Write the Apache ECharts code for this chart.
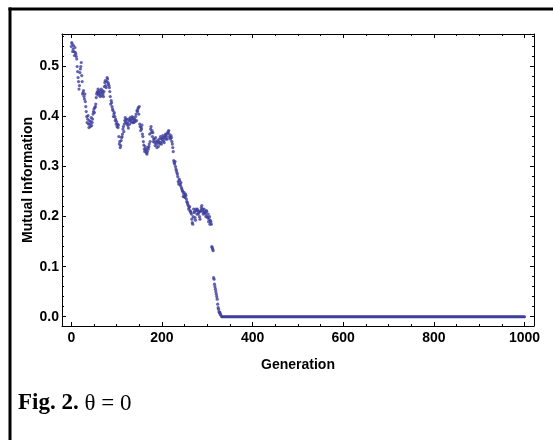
<!DOCTYPE html>
<html>
<head>
<meta charset="utf-8">
<script src="https://cdn.jsdelivr.net/npm/echarts@6/dist/echarts.min.js"></script>
<style>
html,body{margin:0;padding:0;background:#fff;}
#chart{width:553px;height:440px;}
</style>
</head>
<body>
<div id="chart"></div>
<script>
// ---- data ----
const generationsEven = [0,2,4,6,8,10,12,14,16,18,20,22,24,26,28,30,32,34,36,38,40,42,44,46,48,50,52,54,56,58,60,62,64,66,68,70,72,74,76,78,80,82,84,86,88,90,92,94,96,98,100,102,104,106,108,110,112,114,116,118,120,122,124,126,128,130,132,134,136,138,140,142,144,146,148,150,152,154,156,158,160,162,164,166,168,170,172,174,176,178,180,182,184,186,188,190,192,194,196,198,200,202,204,206,208,210,212,214,216,218,220,222,224,226,228,230,232,234,236,238,240,242,244,246,248,250,252,254,256,258,260,262,264,266,268,270,272,274,276,278,280,282,284,286,288,290,292,294,296,298,300,302,304,306,308,310,312,314,316,318,320,322,324,326,328,330];
const mutualInfoEven = [0.540,0.545,0.535,0.530,0.538,0.525,0.515,0.490,0.470,0.462,0.495,0.508,0.470,0.448,0.440,0.445,0.420,0.400,0.395,0.385,0.392,0.380,0.398,0.388,0.405,0.415,0.418,0.425,0.445,0.450,0.443,0.452,0.440,0.455,0.448,0.445,0.450,0.468,0.462,0.470,0.475,0.465,0.458,0.440,0.432,0.420,0.412,0.405,0.400,0.395,0.390,0.385,0.383,0.345,0.338,0.352,0.360,0.375,0.370,0.392,0.388,0.395,0.388,0.377,0.392,0.398,0.390,0.400,0.395,0.388,0.395,0.400,0.392,0.410,0.418,0.420,0.380,0.378,0.383,0.360,0.343,0.330,0.335,0.327,0.330,0.335,0.345,0.350,0.380,0.372,0.368,0.355,0.348,0.358,0.345,0.352,0.340,0.355,0.348,0.356,0.350,0.362,0.352,0.358,0.365,0.360,0.355,0.370,0.365,0.358,0.362,0.350,0.338,0.312,0.305,0.300,0.292,0.285,0.270,0.275,0.265,0.268,0.255,0.250,0.245,0.240,0.245,0.235,0.228,0.222,0.218,0.212,0.208,0.195,0.185,0.215,0.210,0.193,0.212,0.215,0.205,0.210,0.195,0.213,0.222,0.215,0.208,0.210,0.205,0.212,0.200,0.205,0.195,0.185,0.190,0.140,0.135,0.078,0.065,0.055,0.045,0.035,0.018,0.010,0.008,0.003];
const generationsOdd = [1,3,5,7,9,11,13,15,17,19,21,23,25,27,29,31,33,35,37,39,41,43,45,47,49,51,53,55,57,59,61,63,65,67,69,71,73,75,77,79,81,83,85,87,89,91,93,95,97,99,101,103,105,107,109,111,113,115,117,119,121,123,125,127,129,131,133,135,137,139,141,143,145,147,149,151,153,155,157,159,161,163,165,167,169,171,173,175,177,179,181,183,185,187,189,191,193,195,197,199,201,203,205,207,209,211,213,215,217,219,221,223,225,227,229,231,233,235,237,239,241,243,245,247,249,251,253,255,257,259,261,263,265,267,269,271,273,275,277,279,281,283,285,287,289,291,293,295,297,299,301,303,305,307,309,311,313,315,317,319,321,323,325,327,329];
const mutualInfoOdd = [0.548,0.530,0.542,0.522,0.528,0.520,0.500,0.478,0.455,0.488,0.500,0.482,0.445,0.452,0.435,0.430,0.410,0.388,0.402,0.378,0.385,0.390,0.382,0.395,0.410,0.408,0.420,0.438,0.448,0.455,0.447,0.445,0.450,0.442,0.452,0.440,0.460,0.472,0.458,0.478,0.468,0.462,0.450,0.425,0.428,0.415,0.400,0.408,0.392,0.385,0.380,0.378,0.360,0.350,0.342,0.358,0.365,0.380,0.385,0.398,0.393,0.385,0.382,0.395,0.385,0.393,0.395,0.388,0.398,0.392,0.390,0.405,0.412,0.415,0.405,0.385,0.372,0.375,0.365,0.350,0.335,0.340,0.332,0.325,0.338,0.340,0.365,0.375,0.368,0.360,0.350,0.355,0.342,0.350,0.338,0.348,0.350,0.345,0.360,0.345,0.355,0.358,0.348,0.362,0.355,0.365,0.368,0.372,0.360,0.355,0.358,0.345,0.330,0.308,0.310,0.295,0.288,0.280,0.265,0.272,0.262,0.258,0.252,0.240,0.248,0.238,0.242,0.230,0.225,0.215,0.220,0.210,0.205,0.188,0.200,0.208,0.198,0.215,0.205,0.212,0.208,0.200,0.210,0.218,0.212,0.205,0.215,0.208,0.200,0.210,0.198,0.190,0.200,0.192,0.185,0.138,0.132,0.075,0.060,0.050,0.040,0.025,0.015,0.008,0.005];
// flat tail: every generation from 332 to 1000 sits at 0
const zeroTailGenerations = [332, 1000];
const zeroTailValues = [0, 0];

const xTicks = [0,200,400,600,800,1000];
const xMinorTicks = [50,100,150,250,300,350,450,500,550,650,700,750,850,900,950];
const yTicks = [0,0.1,0.2,0.3,0.4,0.5];
const yTickLabels = ['0.0','0.1','0.2','0.3','0.4','0.5'];
const yMinorTicks = [0.02,0.04,0.06,0.08,0.12,0.14,0.16,0.18,0.22,0.24,0.26,0.28,0.32,0.34,0.36,0.38,0.42,0.44,0.46,0.48,0.52,0.54,0.56];

const xName = 'Generation';
const yName = 'Mutual Information';
const captionBold = 'Fig. 2. ';
const captionRest = 'θ = 0';

// ---- chart ----
const SANS = '"Liberation Sans", Arial, Helvetica, sans-serif';
const SERIF = '"Liberation Serif", "Times New Roman", serif';
const DOT = '#3d3d9c';
const XMIN = -20.5, XMAX = 1021, YMIN = -0.0186, YMAX = 0.565;

function xAx(pos, ticks, len, showLine, showLabels, extra) {
  return Object.assign({
    type: 'value', position: pos, min: XMIN, max: XMAX, gridIndex: 0,
    axisLine: {show: showLine, onZero: false, lineStyle: {color: '#000', width: 1}},
    axisTick: {show: true, inside: true, length: len, customValues: ticks, lineStyle: {color: '#000', width: 1}},
    axisLabel: showLabels ? {show: true, customValues: ticks, margin: 5, color: '#000', fontFamily: SANS, fontWeight: 'bold', fontSize: 14,
      formatter: function (v) { return String(Math.round(v)); }} : {show: false},
    splitLine: {show: false}, minorTick: {show: false}
  }, extra || {});
}
function yAx(pos, ticks, len, showLine, showLabels, extra) {
  return Object.assign({
    type: 'value', position: pos, min: YMIN, max: YMAX, gridIndex: 0,
    axisLine: {show: showLine, onZero: false, lineStyle: {color: '#000', width: 1}},
    axisTick: {show: true, inside: true, length: len, customValues: ticks, lineStyle: {color: '#000', width: 1}},
    axisLabel: showLabels ? {show: true, customValues: ticks, margin: 3, color: '#000', fontFamily: SANS, fontWeight: 'bold', fontSize: 14,
      formatter: function (v) { const i = yTicks.findIndex(t => Math.abs(t - v) < 1e-9); return i >= 0 ? yTickLabels[i] : ''; }} : {show: false},
    splitLine: {show: false}, minorTick: {show: false}
  }, extra || {});
}

const chart = echarts.init(document.getElementById('chart'), null, {renderer: 'canvas'});
chart.setOption({
  backgroundColor: '#fff',
  animation: false,
  grid: {left: 62, top: 34, width: 472, height: 292, containLabel: false},
  xAxis: [
    xAx('bottom', xTicks, 4, true, true, {name: xName, nameLocation: 'middle', nameGap: 32, nameMoveOverlap: false,
      nameTextStyle: {color: '#000', fontFamily: SANS, fontWeight: 'bold', fontSize: 14}}),
    xAx('bottom', xMinorTicks, 2, false, false),
    xAx('top', xTicks, 4, true, false),
    xAx('top', xMinorTicks, 2, false, false)
  ],
  yAxis: [
    yAx('left', yTicks, 4, true, true, {name: yName, nameLocation: 'middle', nameGap: 27, nameRotate: 90, nameMoveOverlap: false,
      nameTextStyle: {color: '#000', fontFamily: SANS, fontWeight: 'bold', fontSize: 14}}),
    yAx('left', yMinorTicks, 2, false, false),
    yAx('right', yTicks, 4, true, false),
    yAx('right', yMinorTicks, 2, false, false)
  ],
  series: [
    {
      type: 'scatter', xAxisIndex: 0, yAxisIndex: 0,
      symbol: 'circle', symbolSize: 3.2,
      itemStyle: {color: DOT},
      data: generationsEven.map((g, i) => [g, mutualInfoEven[i]])
    },
    {
      type: 'scatter', xAxisIndex: 0, yAxisIndex: 0,
      symbol: 'circle', symbolSize: 3.2,
      itemStyle: {color: DOT},
      data: generationsOdd.map((g, i) => [g, mutualInfoOdd[i]])
    },
    {
      type: 'line', xAxisIndex: 0, yAxisIndex: 0,
      showSymbol: false, symbol: 'none',
      lineStyle: {color: DOT, width: 3, cap: 'round'},
      data: zeroTailGenerations.map((g, i) => [g, zeroTailValues[i]])
    }
  ],
  graphic: [
    {type: 'line', shape: {x1: 8.5, y1: 9, x2: 553, y2: 9}, style: {stroke: '#000', lineWidth: 3}},
    {type: 'line', shape: {x1: 10, y1: 7.5, x2: 10, y2: 440}, style: {stroke: '#000', lineWidth: 3}},
    {type: 'text', left: 18, top: 392,
      style: {
        text: '{b|' + captionBold + '}{r|' + captionRest + '}',
        rich: {
          b: {fontFamily: SERIF, fontWeight: 'bold', fontSize: 23, fill: '#000'},
          r: {fontFamily: SERIF, fontSize: 23, fill: '#000'}
        }
      }}
  ]
});
</script>
</body>
</html>
